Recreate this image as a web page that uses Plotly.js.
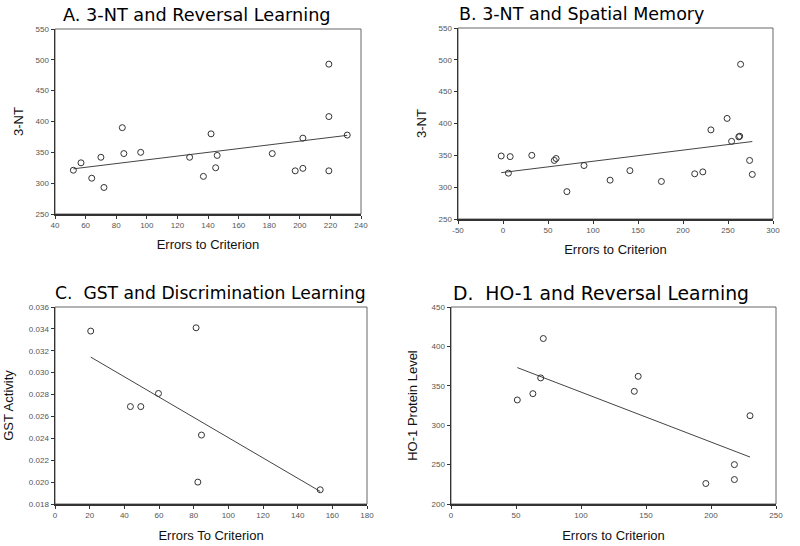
<!DOCTYPE html>
<html>
<head>
<meta charset="utf-8">
<script src="https://cdn.plot.ly/plotly-3.0.1.min.js"></script>
<style>html,body{margin:0;padding:0;background:#fff;}#chart{width:800px;height:546px;}</style>
</head>
<body>
<div id="chart"></div>
<script>
// Panel A: 3-NT vs Reversal Learning errors
const errorsA = [52, 57, 64, 70, 72, 84, 85, 96, 128, 137, 142, 145, 146, 182, 197, 202, 202, 219, 219, 219, 231];
const ntA     = [321, 333, 308, 342, 293, 390, 348, 350, 342, 311, 380, 325, 345, 348, 320, 373, 324, 493, 408, 320, 378];
// Panel B: 3-NT vs Spatial Memory errors
const errorsB = [-2, 6, 8, 32, 57, 59, 71, 90, 119, 141, 176, 213, 222, 231, 249, 254, 262, 263, 264, 274, 277];
const ntB     = [349, 322, 348, 350, 342, 345, 293, 334, 311, 326, 309, 321, 324, 390, 408, 372, 379, 380, 493, 342, 320];
// Panel C: GST activity vs Discrimination Learning errors
const errorsC = [20.6, 43.5, 49.5, 59.7, 81.4, 82.4, 84.5, 153];
const gstC    = [0.0338, 0.0269, 0.0269, 0.0281, 0.0341, 0.0200, 0.0243, 0.0193];
// Panel D: HO-1 protein level vs Reversal Learning errors
const errorsD = [51, 63, 69, 71, 141, 144, 196, 218, 218, 230];
const ho1D    = [332, 340, 360, 410, 343, 362, 226, 250, 231, 312];

// Tick labels for panel B x axis (hyphen minus as in original)
const xTickValsB = [-50, 0, 50, 100, 150, 200, 250, 300];
const xTickTextB = ['-50', '0', '50', '100', '150', '200', '250', '300'];

const titles = ["A. 3-NT and Reversal Learning", "B. 3-NT and Spatial Memory",
                "C.  GST and Discrimination Learning", "D.  HO-1 and Reversal Learning"];
const xTitles = ["Errors to Criterion", "Errors to Criterion", "Errors To Criterion", "Errors to Criterion"];
const yTitles = ["3-NT", "3-NT", "GST Activity", "HO-1 Protein Level"];

function fit(xs, ys) {
  const n = xs.length;
  const mx = xs.reduce((a, b) => a + b, 0) / n;
  const my = ys.reduce((a, b) => a + b, 0) / n;
  let sxy = 0, sxx = 0;
  for (let i = 0; i < n; i++) { sxy += (xs[i] - mx) * (ys[i] - my); sxx += (xs[i] - mx) ** 2; }
  const b = sxy / sxx, a = my - b * mx;
  const x0 = Math.min(...xs), x1 = Math.max(...xs);
  return {x: [x0, x1], y: [a + b * x0, a + b * x1]};
}

const sets = [[errorsA, ntA], [errorsB, ntB], [errorsC, gstC], [errorsD, ho1D]];
const traces = [];
sets.forEach((s, i) => {
  const ax = i === 0 ? '' : String(i + 1);
  const f = fit(s[0], s[1]);
  traces.push({x: f.x, y: f.y, mode: 'lines', type: 'scatter', xaxis: 'x' + ax, yaxis: 'y' + ax,
    line: {color: '#444', width: 1}, hoverinfo: 'skip', showlegend: false});
  traces.push({x: s[0], y: s[1], mode: 'markers', type: 'scatter', xaxis: 'x' + ax, yaxis: 'y' + ax,
    marker: {symbol: 'circle-open', size: 6, color: '#333', line: {width: 1}}, showlegend: false});
});

const W = 800, H = 546;
const boxes = [ // left, right, top, bottom in px
  [55, 361, 29, 214],
  [458, 773, 28, 219],
  [55, 367, 307, 504],
  [451, 776, 307, 504]
];
const xRanges = [[40, 240], [-50, 300], [0, 180], [0, 250]];
const xDtick = [20, 50, 20, 50];
const yRanges = [[250, 550], [250, 550], [0.018, 0.036], [200, 450]];
const yDtick = [50, 50, 0.002, 50];
const yFmt = ['', '', '.3f', ''];
const yStandoff = [9, 9, 12, 11];
const xStandoff = [11, 11, 12, 12];
const titlePos = [[197, 15], [581, 14], [210, 293], [601, 293]];
const titleSize = [17.7, 17.5, 17.2, 18.8];

const layout = {
  width: W, height: H, margin: {l: 0, r: 0, t: 0, b: 0},
  paper_bgcolor: '#fff', plot_bgcolor: '#fff', showlegend: false,
  font: {family: 'Liberation Sans, Arial, sans-serif', color: '#000'},
  annotations: [], shapes: []
};
boxes.forEach((b, i) => {
  const ax = i === 0 ? '' : String(i + 1);
  layout['xaxis' + ax] = {
    domain: [b[0] / W, b[1] / W], anchor: 'y' + ax, range: xRanges[i], dtick: xDtick[i], tick0: 0,
    showgrid: false, zeroline: false, showline: true, linecolor: '#333', linewidth: 1.5,
    ticks: 'outside', ticklen: 3, tickcolor: '#333', tickwidth: 1,
    tickfont: {size: 8, color: '#555'},
    title: {text: xTitles[i], font: {size: 13, color: '#111'}, standoff: xStandoff[i]}
  };
  layout['yaxis' + ax] = {
    domain: [1 - b[3] / H, 1 - b[2] / H], anchor: 'x' + ax, range: yRanges[i], dtick: yDtick[i], tick0: 0,
    tickformat: yFmt[i],
    showgrid: false, zeroline: false, showline: true, linecolor: '#333', linewidth: 1.5,
    ticks: 'outside', ticklen: 3, tickcolor: '#333', tickwidth: 1,
    tickfont: {size: 8, color: '#555'},
    title: {text: yTitles[i], font: {size: 13, color: '#111'}, standoff: yStandoff[i]}
  };
  layout.shapes.push({type: 'rect', xref: 'x' + ax + ' domain', yref: 'y' + ax + ' domain',
    x0: 0, x1: 1, y0: 0, y1: 1, line: {color: '#666', width: 1}, layer: 'below'});
  layout.annotations.push({text: titles[i], xref: 'paper', yref: 'paper',
    x: titlePos[i][0] / W, y: 1 - titlePos[i][1] / H, xanchor: 'center', yanchor: 'middle',
    showarrow: false, font: {family: 'DejaVu Sans, sans-serif', size: titleSize[i], color: '#000'}});
});
layout.xaxis2.tickmode = 'array';
layout.xaxis2.tickvals = xTickValsB;
layout.xaxis2.ticktext = xTickTextB;

Plotly.newPlot('chart', traces, layout, {displayModeBar: false, staticPlot: true});
</script>
</body>
</html>
